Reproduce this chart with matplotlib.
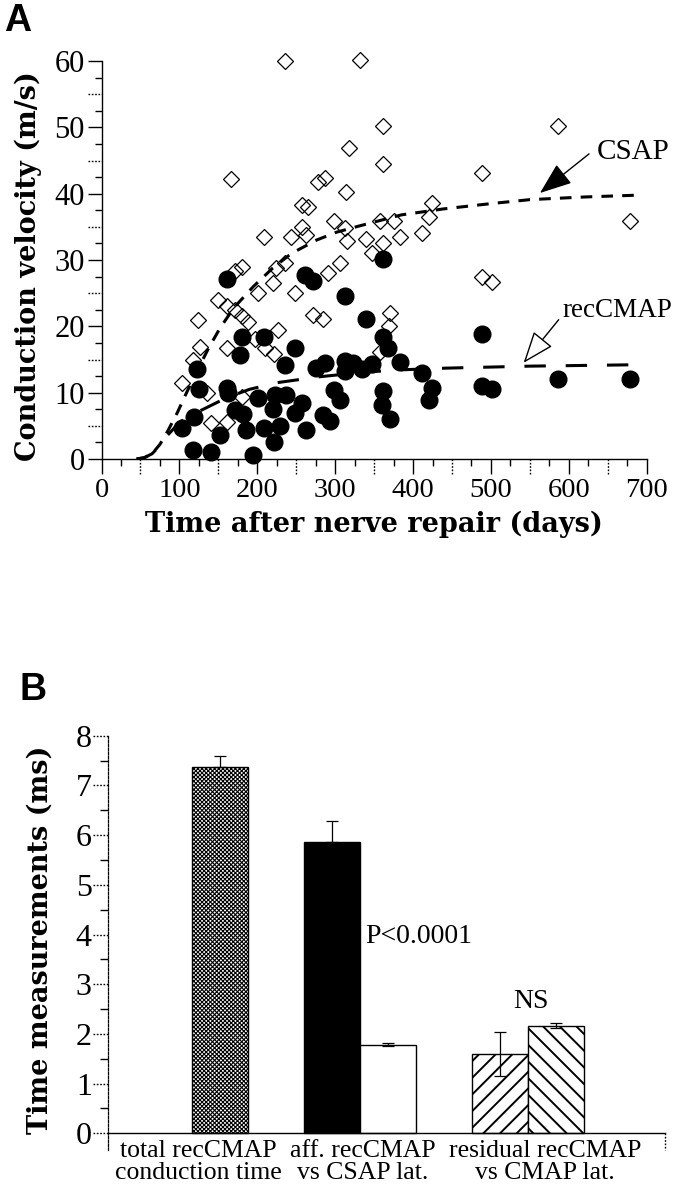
import matplotlib
matplotlib.use("Agg")
import matplotlib.pyplot as plt
import matplotlib.transforms as mtransforms

plt.rcParams['font.family'] = ['Liberation Serif', 'DejaVu Serif']
plt.rcParams['hatch.linewidth'] = 1.4

W, H = 679, 1199

# ---- panel A: conduction velocity vs time
csap_days = [235, 332, 318, 166, 278, 287, 314, 258, 265, 208, 243, 257, 263, 298, 313, 315,
             306, 236, 224, 180, 171, 291, 362, 586, 362, 488, 424, 420, 411, 358, 375, 383,
             362, 340, 347, 678, 488, 501, 370, 369, 357, 220, 201, 248, 150, 161, 171, 180,
             188, 124, 272, 285, 227, 197, 210, 221, 161, 126, 118, 103, 135, 180, 141, 161]
csap_vel = [60.0, 60.1, 46.9, 42.2, 41.8, 42.3, 40.2, 38.3, 38.0, 33.4, 33.4, 35.0, 33.8, 35.9, 34.8, 32.8,
            29.5, 29.5, 28.8, 29.0, 28.3, 28.0, 50.2, 50.2, 44.5, 43.1, 38.6, 36.5, 34.0, 35.9, 35.9, 33.4,
            32.5, 33.1, 31.0, 35.9, 27.5, 26.7, 22.0, 20.0, 16.2, 26.5, 25.0, 25.1, 24.0, 23.0, 22.5, 21.5,
            20.7, 20.9, 21.7, 21.1, 19.4, 18.1, 16.7, 15.8, 16.8, 16.9, 14.9, 11.4, 9.9, 9.4, 5.5, 5.6]

rec_days = [161, 261, 271, 362, 313, 340, 362, 368, 488, 383, 411, 424, 420, 488, 502, 586,
            678, 362, 360, 370, 313, 313, 323, 334, 347, 276, 287, 298, 306, 284, 294, 181,
            208, 178, 248, 236, 123, 125, 161, 163, 201, 171, 182, 223, 237, 220, 258, 248,
            103, 119, 152, 186, 209, 229, 221, 263, 117, 140, 195]
rec_vel = [27.2, 27.7, 26.8, 30.1, 24.6, 21.1, 18.4, 16.8, 18.9, 14.6, 13.0, 10.7, 8.9, 11.0, 10.5, 12.1,
           12.1, 10.2, 8.1, 6.1, 14.8, 13.2, 14.4, 13.6, 14.3, 13.7, 14.4, 10.4, 8.9, 6.6, 5.8, 18.4,
           18.4, 15.7, 16.8, 14.2, 13.5, 10.5, 10.7, 10.0, 9.2, 7.4, 6.8, 9.7, 9.7, 7.6, 8.5, 6.9,
           4.6, 6.4, 3.6, 4.3, 4.6, 4.9, 2.6, 4.3, 1.4, 1.0, 0.6]

# fitted curves as drawn
csap_fit_days = [45, 55, 65, 75, 85, 97, 110, 125, 137, 152, 170, 195, 220, 244, 276, 302,
                 330, 385, 439, 500, 550, 620, 695]
csap_fit_vel = [0, 0.2, 0.8, 2.2, 4.2, 6.9, 10.2, 13.8, 16.6, 19.7, 22.8, 26.0, 28.8, 31.0, 33.0, 34.2,
                35.1, 36.8, 37.7, 38.5, 39.1, 39.5, 39.8]
rec_fit_days = [45, 55, 65, 75, 85, 100, 115, 129, 160, 190, 225, 280, 330, 375, 443, 550, 681]
rec_fit_vel = [0, 0.2, 0.8, 2.0, 3.6, 5.5, 6.7, 7.4, 9.2, 10.5, 11.5, 12.4, 13.0, 13.4, 13.7, 14.0, 14.2]

# ---- panel B: time measurements
bar_pos = [2, 4, 5, 7, 8]
bar_vals = [7.37, 5.86, 1.78, 1.60, 2.16]
bar_err = [0.22, 0.43, 0.03, 0.44, 0.05]
bar_show_low = [0, 0, 1, 1, 1]
bar_faces = ['white', 'black', 'white', 'white', 'white']
bar_hatches = ['xxxxxxxx', None, None, '//', '\\\\']
bar_hatch_lw = [0.8, 1.4, 1.4, 1.4, 1.4]
group_pos = [1.6, 4.55, 7.8]
group_labels = ['total recCMAP\nconduction time', 'aff. recCMAP\nvs CSAP lat.',
                'residual recCMAP\nvs CMAP lat.']


def px_box(x0, y0, x1, y1):
    # pixel box (top-left origin) -> figure rect
    return [x0 / W, 1 - y1 / H, (x1 - x0) / W, (y1 - y0) / H]


def dotted_ticks(ax, vals, axis, length_px, ax_len_px):
    frac = length_px / ax_len_px
    if axis == 'y':
        tr = mtransforms.blended_transform_factory(ax.transAxes, ax.transData)
        for v in vals:
            ax.plot([-frac, 0], [v, v], transform=tr, color='black', lw=1,
                    ls=(0, (1.2, 1.2)), clip_on=False)
    else:
        tr = mtransforms.blended_transform_factory(ax.transData, ax.transAxes)
        for v in vals:
            ax.plot([v, v], [-frac, 0], transform=tr, color='black', lw=1,
                    ls=(0, (1.2, 1.2)), clip_on=False)


fig = plt.figure(figsize=(W / 100, H / 100), dpi=100)

# ================= panel A
ax1 = fig.add_axes(px_box(101.5, 61, 646.7, 459))
ax1.plot(csap_days, csap_vel, ls='none', marker='D', ms=8, mfc='none', mec='black',
         mew=0.9, clip_on=False, zorder=2)
ax1.plot(rec_days, rec_vel, ls='none', marker='o', ms=12, color='black', clip_on=False, zorder=3)
ax1.plot(csap_fit_days, csap_fit_vel, color='black', lw=2.2, dashes=(3.8, 3.0), zorder=4)
ax1.plot(rec_fit_days, rec_fit_vel, color='black', lw=2.2, dashes=(7, 6.5), zorder=4)

ax1.set_xlim(0, 700)
ax1.set_ylim(0, 60)
for s in ['top', 'right']:
    ax1.spines[s].set_visible(False)
ax1.spines['left'].set_linewidth(1)
ax1.spines['bottom'].set_linewidth(1)
ax1.set_xticks(range(0, 701, 100))
ax1.set_yticks(range(0, 61, 10))
ax1.set_xticks([25 + 50 * k for k in range(14)], minor=True)
ax1.set_yticks([2.5 + 5 * k for k in range(12)], minor=True)
ax1.tick_params(axis='y', which='major', direction='out', length=10, width=1, pad=2, labelsize=22)
ax1.tick_params(axis='x', which='major', direction='out', length=11, width=1, pad=3, labelsize=20.5)
ax1.tick_params(which='minor', direction='out', length=5, width=1)
dotted_ticks(ax1, [5 + 10 * k for k in range(6)], 'y', 14, 545.2)
dotted_ticks(ax1, [50 + 100 * k for k in range(7)], 'x', 15, 398)

ax1.annotate('', xy=(563, 40.1), xytext=(626, 46.0),
             arrowprops=dict(arrowstyle='-|>,head_length=1.0,head_width=0.38', color='black',
                             lw=1, shrinkA=0, shrinkB=0, mutation_scale=20))
ax1.text(636, 46.3, 'CSAP', fontsize=21, ha='left', va='center')
ax1.annotate('', xy=(542, 14.5), xytext=(587, 21.0),
             arrowprops=dict(arrowstyle='-|>,head_length=1.0,head_width=0.38', fc='white',
                             ec='black', lw=1, shrinkA=0, shrinkB=0, mutation_scale=20))
ax1.text(592, 22.4, 'recCMAP', fontsize=19.5, ha='left', va='center')

fig.text(28.5 / W, 1 - 266 / H, 'Conduction velocity (m/s)', rotation=90, ha='center',
         va='center', fontsize=19.5, fontweight='bold', family='DejaVu Serif')
fig.text(374 / W, 1 - 524 / H, 'Time after nerve repair (days)', ha='center', va='center',
         fontsize=19.5, fontweight='bold', family='DejaVu Serif')
fig.text(4 / W, 1 - 21 / H, 'A', ha='left', va='center', fontsize=27, fontweight='bold',
         family='Liberation Sans')

# ================= panel B
y_low = -16.7 / 49.7
ax2 = fig.add_axes(px_box(108.3, 735.7, 665, 1150))
for p, v, fc, ht, hlw in zip(bar_pos, bar_vals, bar_faces, bar_hatches, bar_hatch_lw):
    with plt.rc_context({'hatch.linewidth': hlw}):
        bars = ax2.bar(p, v, width=1, color=fc, edgecolor='black', hatch=ht, lw=1, zorder=2)
    for b in bars:
        if hasattr(b, 'set_hatch_linewidth'):
            b.set_hatch_linewidth(hlw)
lower = [e * s for e, s in zip(bar_err, bar_show_low)]
ax2.errorbar(bar_pos, bar_vals, yerr=[lower, bar_err], fmt='none', ecolor='black',
             elinewidth=0.9, capsize=4.5, capthick=0.9, zorder=3)

ax2.set_xlim(0, 9.94)
ax2.set_ylim(y_low, 8)
for s in ['top', 'right', 'bottom']:
    ax2.spines[s].set_visible(False)
ax2.spines['left'].set_linestyle((0, (2, 1.2)))
ax2.spines['left'].set_linewidth(0.9)
ax2.plot([0, 9.94], [0, 0], color='black', lw=1, zorder=4, clip_on=False)
ax2.plot([9.94, 9.94], [0, y_low], color='black', lw=1, ls=(0, (1.2, 1.2)), clip_on=False)
ax2.set_xticks([])
ax2.set_yticks(range(0, 9))
ax2.set_yticks([0.5 + k for k in range(8)], minor=True)
ax2.tick_params(axis='y', which='major', length=0, pad=12, labelsize=23)
ax2.tick_params(axis='y', which='minor', direction='out', length=6, width=1)
dotted_ticks(ax2, range(0, 9), 'y', 15, 556.7)

for gx, gl in zip(group_pos, group_labels):
    ax2.text(gx, -0.14, gl, ha='center', va='top', fontsize=18.5, linespacing=1.0)
ax2.text(4.58, 3.96, 'P<0.0001', fontsize=20, ha='left', va='center')
ax2.text(7.55, 2.65, 'NS', fontsize=20, ha='center', va='center')

fig.text(40 / W, 1 - 939.5 / H, 'Time measurements (ms)', rotation=90, ha='center',
         va='center', fontsize=19.5, fontweight='bold', family='DejaVu Serif')
fig.text(20 / W, 1 - 690 / H, 'B', ha='left', va='center', fontsize=27, fontweight='bold',
         family='Liberation Sans')

fig.savefig('out.png', dpi=100)
